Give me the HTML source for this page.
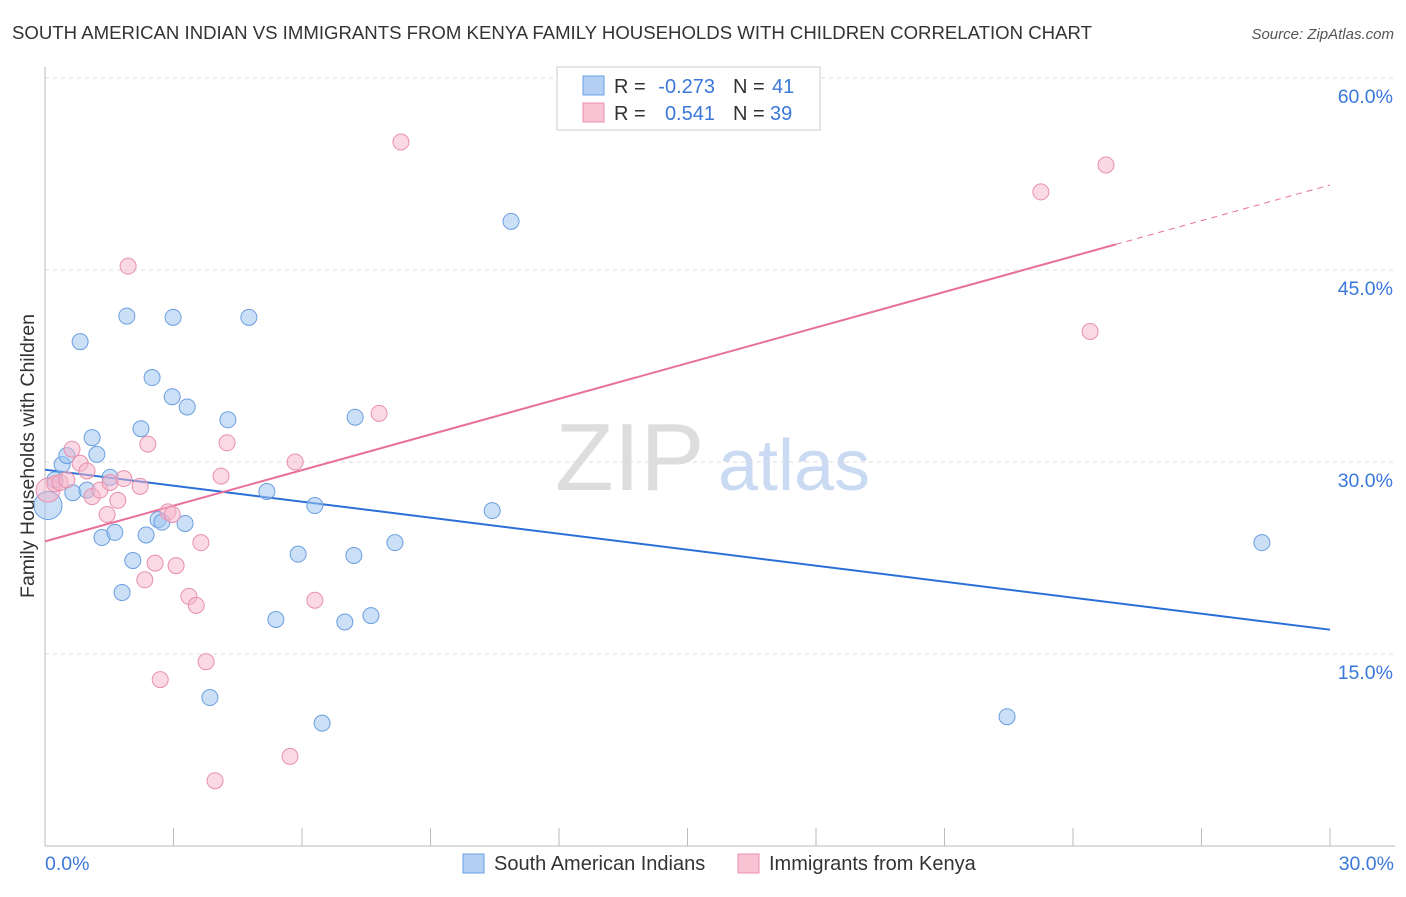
<!DOCTYPE html>
<html><head><meta charset="utf-8"><style>
body{margin:0;background:#fff;font-family:"Liberation Sans",sans-serif;}
svg text{font-family:"Liberation Sans",sans-serif;}
</style></head><body>
<svg id="chart" width="1406" height="892" xmlns="http://www.w3.org/2000/svg">
<text x="12" y="39" font-size="18.6" fill="#333">SOUTH AMERICAN INDIAN VS IMMIGRANTS FROM KENYA FAMILY HOUSEHOLDS WITH CHILDREN CORRELATION CHART</text>
<text x="1394" y="39" font-size="15" fill="#555" font-style="italic" text-anchor="end">Source: ZipAtlas.com</text>
<g>
<text x="555" y="490" font-size="96" fill="#ddd" font-family="Liberation Serif">ZIP</text>
<text x="718" y="490" font-size="72" fill="#c9daf2">atlas</text>
</g>
<g id="grid"></g>
<g id="axes"></g>
<g id="trends"></g>
<g id="pts"></g>
<text transform="translate(34,456) rotate(-90)" font-size="19.5" fill="#333" text-anchor="middle">Family Households with Children</text>
<g>
<rect x="557" y="67" width="263" height="63" fill="#fff" stroke="#ccc"/>
<rect x="583" y="76" width="21" height="19" fill="#b3cff3" stroke="#6a9fe0"/>
<rect x="583" y="103" width="21" height="19" fill="#f9c3d4" stroke="#e890ae"/>
<text x="614" y="93" font-size="20" fill="#333">R =</text>
<text x="715" y="93" font-size="20" fill="#3b78d8" text-anchor="end">-0.273</text>
<text x="733" y="93" font-size="20" fill="#333">N =</text>
<text x="772" y="93" font-size="20" fill="#3b78d8">41</text>
<text x="614" y="120" font-size="20" fill="#333">R =</text>
<text x="715" y="120" font-size="20" fill="#3b78d8" text-anchor="end">0.541</text>
<text x="733" y="120" font-size="20" fill="#333">N =</text>
<text x="770" y="120" font-size="20" fill="#3b78d8">39</text>
</g>
<g>
<rect x="463" y="854" width="21" height="19" fill="#b3cff3" stroke="#6a9fe0"/>
<text x="494" y="870" font-size="20" fill="#333">South American Indians</text>
<rect x="738" y="854" width="21" height="19" fill="#f9c3d4" stroke="#e890ae"/>
<text x="769" y="870" font-size="20" fill="#333">Immigrants from Kenya</text>
</g>
</svg>
<script>
const yTicks=[15,30,45,60];
const xTickLabels=["0.0%","30.0%"];
const blueX=[0.07,0.23,0.40,0.51,0.65,0.82,0.98,1.10,1.21,1.33,1.52,1.63,1.80,1.91,2.05,2.24,2.36,2.50,2.64,2.73,2.97,2.99,3.27,3.32,3.85,4.27,4.76,5.18,5.39,5.91,6.30,6.47,7.00,7.21,7.24,7.61,8.17,10.44,10.88,22.46,28.41];
const blueY=[26.6,28.6,29.8,30.5,27.6,39.4,27.8,31.9,30.6,24.1,28.8,24.5,19.8,41.4,22.3,32.6,24.3,36.6,25.5,25.3,35.1,41.3,25.2,34.3,11.6,33.3,41.3,27.7,17.7,22.8,26.6,9.6,17.5,22.7,33.5,18.0,23.7,26.2,48.8,10.1,23.7];
const pinkX=[0.07,0.23,0.35,0.51,0.63,0.82,0.98,1.10,1.28,1.45,1.52,1.70,1.84,1.94,2.22,2.33,2.40,2.57,2.69,2.87,2.97,3.06,3.36,3.53,3.64,3.76,3.97,4.11,4.25,5.72,5.84,6.30,7.80,8.31,23.25,24.40,24.77];
const pinkY=[27.8,28.3,28.4,28.6,31.0,29.9,29.3,27.3,27.8,25.9,28.4,27.0,28.7,45.3,28.1,20.8,31.4,22.1,13.0,26.1,25.9,21.9,19.5,18.8,23.7,14.4,5.1,28.9,31.5,7.0,30.0,19.2,33.8,55.0,51.1,40.2,53.2];
const blueTrend=[29.4,16.9]; // y at x=0 and x=30
const pinkTrend=[23.8,0.928]; // intercept, slope
const pinkSolidEnd=25;
const X=v=>45+v*(1285/30), Y=v=>846-v*12.8;
const NS="http://www.w3.org/2000/svg";
function mk(p,t,a){const e=document.createElementNS(NS,t);for(const k in a)e.setAttribute(k,a[k]);p.appendChild(e);return e;}
const grid=document.getElementById('grid'),axes=document.getElementById('axes'),tr=document.getElementById('trends'),pts=document.getElementById('pts');
yTicks.forEach(t=>{
 const l=mk(grid,'line',{x1:45,x2:1395,y1:Y(t),y2:Y(t),stroke:'#ddd','stroke-dasharray':'4,4'});
 
 
 const tx=mk(grid,'text',{x:1393,y:Y(t)+25,'font-size':19.5,fill:'#3b78d8','text-anchor':'end'});
 tx.textContent=t.toFixed(1)+'%';
 
 
});
let a=mk(axes,'line',{x1:45,x2:45,y1:67,y2:846,stroke:'#bbb'});


a=mk(axes,'line',{x1:45,x2:1395,y1:846,y2:846,stroke:'#bbb'});


for(let i=0;i<=10;i++){const t=mk(axes,'line',{x1:X(i*3),x2:X(i*3),y1:828,y2:846,stroke:'#bbb'});
 
 }
[[0,'start',45],[1,'end',1394]].forEach(([i,anc,x])=>{const t=mk(axes,'text',{x:x,y:870,'font-size':19.5,fill:'#3b78d8','text-anchor':anc});t.textContent=xTickLabels[i];
 
 });
let ln=mk(tr,'line',{x1:X(0),y1:Y(blueTrend[0]),x2:X(30),y2:Y(blueTrend[1]),stroke:'#2a6fd6','stroke-width':2});


const pY=x=>pinkTrend[0]+pinkTrend[1]*x;
ln=mk(tr,'line',{x1:X(0),y1:Y(pY(0)),x2:X(pinkSolidEnd),y2:Y(pY(pinkSolidEnd)),stroke:'#e8709a','stroke-width':2});


ln=mk(tr,'line',{x1:X(pinkSolidEnd),y1:Y(pY(pinkSolidEnd)),x2:X(30),y2:Y(pY(30)),stroke:'#e8709a','stroke-width':1,'stroke-dasharray':'6,5'});


blueX.forEach((x,i)=>{const c=mk(pts,'circle',{cx:X(x),cy:Y(blueY[i]),r:i==0?14:8,fill:'rgba(160,196,240,0.55)',stroke:'#6a9fe0','stroke-width':1});
 
 });
pinkX.forEach((x,i)=>{const c=mk(pts,'circle',{cx:X(x),cy:Y(pinkY[i]),r:i==0?12:8,fill:'rgba(246,180,202,0.5)',stroke:'#e890ae','stroke-width':1});
 
 });
</script>
</body></html>
